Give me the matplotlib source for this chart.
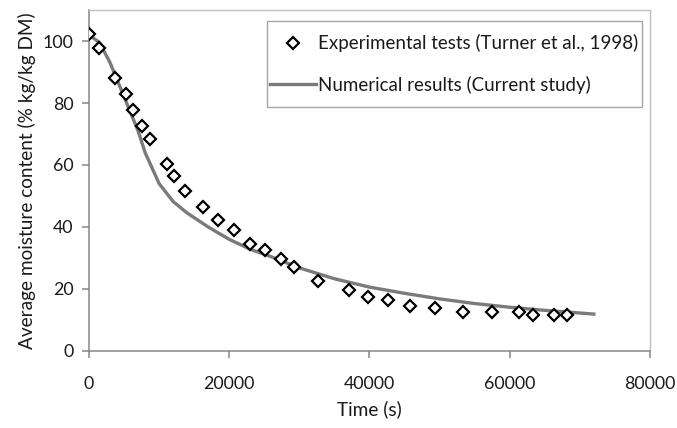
import matplotlib.pyplot as plt
from matplotlib.lines import Line2D
from matplotlib.patches import Rectangle

# Experimental drying data (Turner et al., 1998)
t_exp = [0, 1420, 3700, 5220, 6310, 7500, 8680, 11150, 12050, 13620, 16230,
         18460, 20640, 22920, 25150, 27330, 29180, 32600, 37150, 39860, 42700,
         45740, 49350, 53380, 57460, 61260, 63350, 66380, 68190]
m_exp = [102.3, 97.8, 88.0, 82.8, 77.7, 72.6, 68.4, 60.3, 56.5, 51.7, 46.4,
         42.4, 38.9, 34.6, 32.7, 29.8, 27.1, 22.7, 19.6, 17.4, 16.5,
         14.4, 14.0, 12.5, 12.5, 12.5, 11.5, 11.5, 11.5]

# Numerical results (current study)
t_num = [0, 1500, 3000, 5000, 7000, 8000, 10000, 12000, 14000, 17000, 20000,
         23000, 26000, 30000, 35000, 40000, 45000, 50000, 55000, 60000, 65000, 72000]
m_num = [102.0, 99.5, 93.0, 82.0, 71.0, 64.0, 54.0, 48.2, 44.5, 40.0, 36.0,
         32.8, 30.4, 26.8, 23.3, 20.6, 18.6, 16.8, 15.3, 14.1, 13.1, 11.9]

plt.rcParams['font.family'] = ['Lato', 'DejaVu Sans']
texto = '#1a1a1a'

fig = plt.figure(figsize=(6.77, 4.28), dpi=100)
ax = fig.add_axes([0.1315, 0.18, 0.8285, 0.7966])

ax.plot(t_num, m_num, color='#7a7a7a', linewidth=2.4, zorder=2)
ax.plot(t_exp, m_exp, linestyle='none', marker='D', markersize=5.8,
        markerfacecolor='white', markeredgecolor='black', markeredgewidth=1.6,
        zorder=3)

ax.set_xlim(0, 80000)
ax.set_ylim(0, 110)
ax.set_xticks([0, 20000, 40000, 60000, 80000])
ax.set_yticks([0, 20, 40, 60, 80, 100])

for lado in ['left', 'bottom']:
    ax.spines[lado].set_color('#868686')
    ax.spines[lado].set_linewidth(1.1)
for lado in ['top', 'right']:
    ax.spines[lado].set_color('#c0c0c0')
    ax.spines[lado].set_linewidth(1.0)

ax.tick_params(axis='both', direction='out', length=5, width=1.1,
               color='#868686', labelsize=12.8, labelcolor=texto)
ax.tick_params(axis='x', pad=13)
ax.tick_params(axis='y', pad=6)

ax.set_xlabel('Time (s)', fontsize=13.7, color=texto, labelpad=6)
ax.set_ylabel('Average moisture content (% kg/kg DM)', fontsize=13.7,
              color=texto, labelpad=5)

# Leyenda (marco dibujado aparte para dejar más aire arriba y abajo)
h_exp = Line2D([], [], linestyle='none', marker='D', markersize=5.8,
               markerfacecolor='white', markeredgecolor='black',
               markeredgewidth=1.6)
h_num = Line2D([], [], color='#7a7a7a', linewidth=2.4)
leg = ax.legend([h_exp, h_num],
                ['Experimental tests (Turner et al., 1998)',
                 'Numerical results (Current study)'],
                loc='upper right', bbox_to_anchor=(0.986, 0.94),
                fontsize=13.5, handlelength=2.45, handletextpad=0.1,
                labelspacing=1.25, borderpad=0.2, borderaxespad=0,
                frameon=False, labelcolor=texto)
leg.set_zorder(6)

fig.canvas.draw()
caja = leg.get_window_extent().transformed(fig.transFigure.inverted())
pad_y = 9 / 428
marco = Rectangle((caja.x0, caja.y0 - pad_y), caja.width, caja.height + 2 * pad_y,
                  transform=fig.transFigure, facecolor='white',
                  edgecolor='#a6a6a6', linewidth=1.0, zorder=5, clip_on=False)
ax.add_patch(marco)

fig.savefig('out.png', dpi=100)
